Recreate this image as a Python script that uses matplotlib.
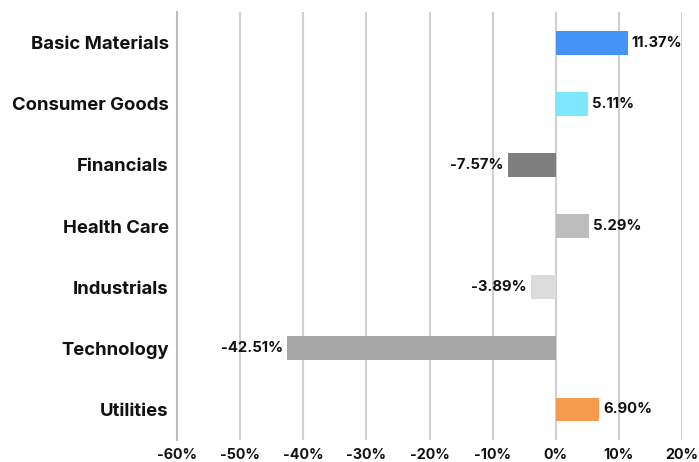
import matplotlib.pyplot as plt
import numpy as np

categories = ["Basic Materials", "Consumer Goods", "Financials", "Health Care",
              "Industrials", "Technology", "Utilities"]
values = [11.37, 5.11, -7.57, 5.29, -3.89, -42.51, 6.90]
colors = ["#4494f8", "#7de8fd", "#7f7f7f", "#bdbdbd", "#dcdcdc", "#a6a6a6", "#f59b4e"]
ticks = [-60, -50, -40, -30, -20, -10, 0, 10, 20]

plt.rcParams['font.family'] = ['Inter', 'DejaVu Sans']
plt.rcParams['font.weight'] = 'bold'

fig = plt.figure(figsize=(6.99, 4.62), dpi=100)
ax = fig.add_axes([0.2532, 0.0476, 0.7225, 0.9264])

y = np.arange(len(categories))
ax.barh(y, values, height=0.39, color=colors, zorder=3)

# value labels beside each bar end
for yi, v in zip(y, values):
    if v >= 0:
        ax.text(v + 0.65, yi, f"{v:.2f}%", va='center', ha='left', fontsize=10.7,
                fontweight='bold', color='#111111', zorder=4)
    else:
        ax.text(v - 0.65, yi, f"{v:.2f}%", va='center', ha='right', fontsize=10.7,
                fontweight='bold', color='#111111', zorder=4)

ax.set_xlim(-60, 20)
ax.set_ylim(len(categories) - 0.5, -0.5)
ax.set_yticks(y)
ax.set_yticklabels(categories, fontsize=13.3, fontweight='bold', color='#111111')
ax.set_xticks(ticks)
ax.set_xticklabels([f"{t}%" for t in ticks], fontsize=10.3, fontweight='bold', color='#111111')
ax.tick_params(axis='y', length=0, pad=6)
ax.tick_params(axis='x', length=0, pad=5.5)

ax.grid(axis='x', color='#d0d0d0', linewidth=1.5, zorder=0)
for s in ['top', 'right', 'bottom']:
    ax.spines[s].set_visible(False)
ax.spines['left'].set_color('#bdbdbd')
ax.spines['left'].set_linewidth(1.5)

fig.savefig("out.png", dpi=100)
